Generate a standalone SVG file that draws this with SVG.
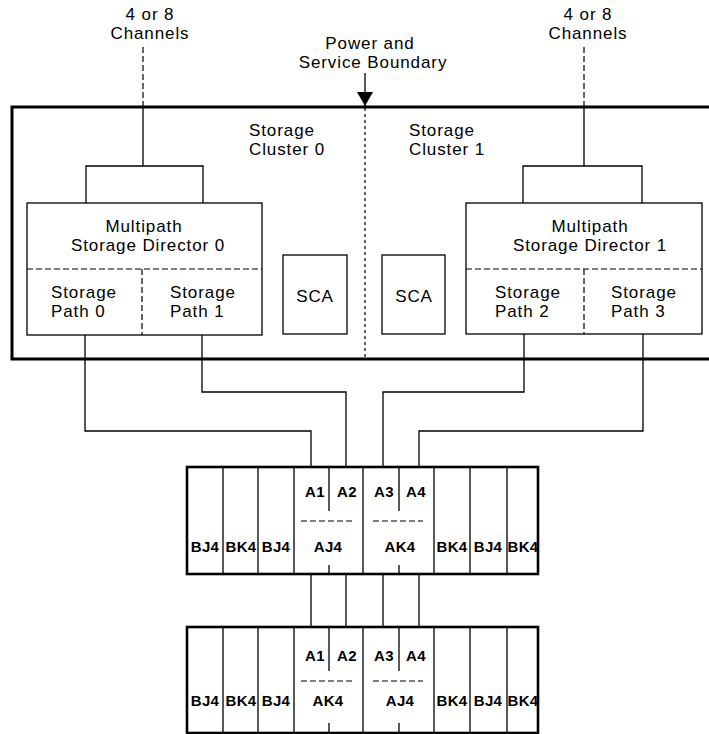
<svg xmlns="http://www.w3.org/2000/svg" width="709" height="734" viewBox="0 0 709 734">
<style>
text{font-family:"Liberation Sans",Arial,sans-serif;fill:#000}
.t{font-size:17px;letter-spacing:0.9px}
.s{font-size:15px;letter-spacing:0.3px;font-weight:bold}
.m{text-anchor:middle}
.ln{fill:none;stroke:#000;stroke-width:1.3}
.dl{fill:none;stroke:#000;stroke-width:1.2;stroke-dasharray:6 3}
.db{fill:none;stroke:#000;stroke-width:1.2;stroke-dasharray:3 3}
.bx{fill:#fff;stroke:#000;stroke-width:1.3}
.th{fill:none;stroke:#000;stroke-width:3}
.tb{fill:#fff;stroke:#000;stroke-width:2.6}
</style>
<defs>
<marker id="ah" viewBox="0 0 14 16" refX="14" refY="8" markerWidth="14" markerHeight="16" markerUnits="userSpaceOnUse" orient="auto">
<path d="M0,0 L14,8 L0,16 Z" fill="#000"/>
</marker>
</defs>

<g id="labels">
<text class="t m" x="150" y="20">4 or 8</text>
<text class="t m" x="150" y="39">Channels</text>
<text class="t m" x="588" y="20">4 or 8</text>
<text class="t m" x="588" y="39">Channels</text>
<text class="t m" x="370" y="49">Power and</text>
<text class="t m" x="373" y="68">Service Boundary</text>
</g>

<g id="cluster-frame">
<path class="th" d="M712,107 H12 V359 H712"/>
<text class="t" x="249" y="136">Storage</text>
<text class="t" x="249" y="155">Cluster 0</text>
<text class="t" x="409" y="136">Storage</text>
<text class="t" x="409" y="155">Cluster 1</text>
</g>

<g id="connectors">
<path class="dl" d="M143,47 V107"/>
<path class="dl" d="M584,47 V107"/>
<path class="ln" d="M143,107 V166 M86,203 V166 H203 V203"/>
<path class="ln" d="M584,107 V166 M523,203 V166 H642 V203"/>
<path class="ln" d="M365,73 V106" marker-end="url(#ah)"/>
<path class="db" d="M365,108 V357"/>
<path class="ln" d="M85,335 V431 H311 V467"/>
<path class="ln" d="M202,335 V392 H346 V467"/>
<path class="ln" d="M524,334 V392 H383 V467"/>
<path class="ln" d="M643,334 V431 H419 V467"/>
<path class="ln" d="M311,574 V627 M346,574 V627 M383,574 V627 M419,574 V627"/>
</g>

<g id="director0">
<rect class="bx" x="27" y="203" width="235" height="132"/>
<path class="dl" d="M27,269 H262 M142,269 V335"/>
<text class="t m" x="144" y="232">Multipath</text>
<text class="t m" x="148" y="251">Storage Director 0</text>
<text class="t" x="51" y="298">Storage</text>
<text class="t" x="51" y="317">Path 0</text>
<text class="t" x="170" y="298">Storage</text>
<text class="t" x="170" y="317">Path 1</text>
</g>

<g id="sca0">
<rect class="bx" x="283" y="255" width="64" height="79"/>
<text class="t m" x="315" y="302">SCA</text>
</g>

<g id="sca1">
<rect class="bx" x="382" y="255" width="63" height="79"/>
<text class="t m" x="414" y="302">SCA</text>
</g>

<g id="director1">
<rect class="bx" x="466" y="203" width="236" height="131"/>
<path class="dl" d="M466,269 H702 M584,269 V334"/>
<text class="t m" x="590" y="232">Multipath</text>
<text class="t m" x="590" y="251">Storage Director 1</text>
<text class="t" x="495" y="298">Storage</text>
<text class="t" x="495" y="317">Path 2</text>
<text class="t" x="611" y="298">Storage</text>
<text class="t" x="611" y="317">Path 3</text>
</g>

<g id="board-upper">
<rect class="tb" x="187" y="467" width="351" height="107"/>
<path class="ln" d="M223,467 V574 M258,467 V574 M294,467 V574 M363,467 V574 M434,467 V574 M470,467 V574 M507,467 V574"/>
<path class="ln" d="M329,467 V511 M399,467 V511 M329,565 V574 M399,565 V574"/>
<path class="dl" d="M301,521 H352 M373,521 H423" stroke-dasharray="5 3"/>
<text class="s m" x="315" y="497">A1</text>
<text class="s m" x="347" y="497">A2</text>
<text class="s m" x="384" y="497">A3</text>
<text class="s m" x="416" y="497">A4</text>
<text class="s m" x="205" y="552">BJ4</text>
<text class="s m" x="241" y="552">BK4</text>
<text class="s m" x="276" y="552">BJ4</text>
<text class="s m" x="328" y="552">AJ4</text>
<text class="s m" x="400" y="552">AK4</text>
<text class="s m" x="452" y="552">BK4</text>
<text class="s m" x="488" y="552">BJ4</text>
<text class="s m" x="523" y="552">BK4</text>
</g>

<g id="board-lower">
<rect class="tb" x="187" y="627" width="351" height="106"/>
<path class="ln" d="M223,627 V733 M258,627 V733 M294,627 V733 M363,627 V733 M434,627 V733 M470,627 V733 M507,627 V733"/>
<path class="ln" d="M329,627 V671 M399,627 V671 M329,723 V733 M399,723 V733"/>
<path class="dl" d="M301,681 H352 M373,681 H423" stroke-dasharray="5 3"/>
<text class="s m" x="315" y="661">A1</text>
<text class="s m" x="347" y="661">A2</text>
<text class="s m" x="384" y="661">A3</text>
<text class="s m" x="416" y="661">A4</text>
<text class="s m" x="205" y="706">BJ4</text>
<text class="s m" x="241" y="706">BK4</text>
<text class="s m" x="276" y="706">BJ4</text>
<text class="s m" x="328" y="706">AK4</text>
<text class="s m" x="400" y="706">AJ4</text>
<text class="s m" x="452" y="706">BK4</text>
<text class="s m" x="488" y="706">BJ4</text>
<text class="s m" x="523" y="706">BK4</text>
</g>
</svg>
